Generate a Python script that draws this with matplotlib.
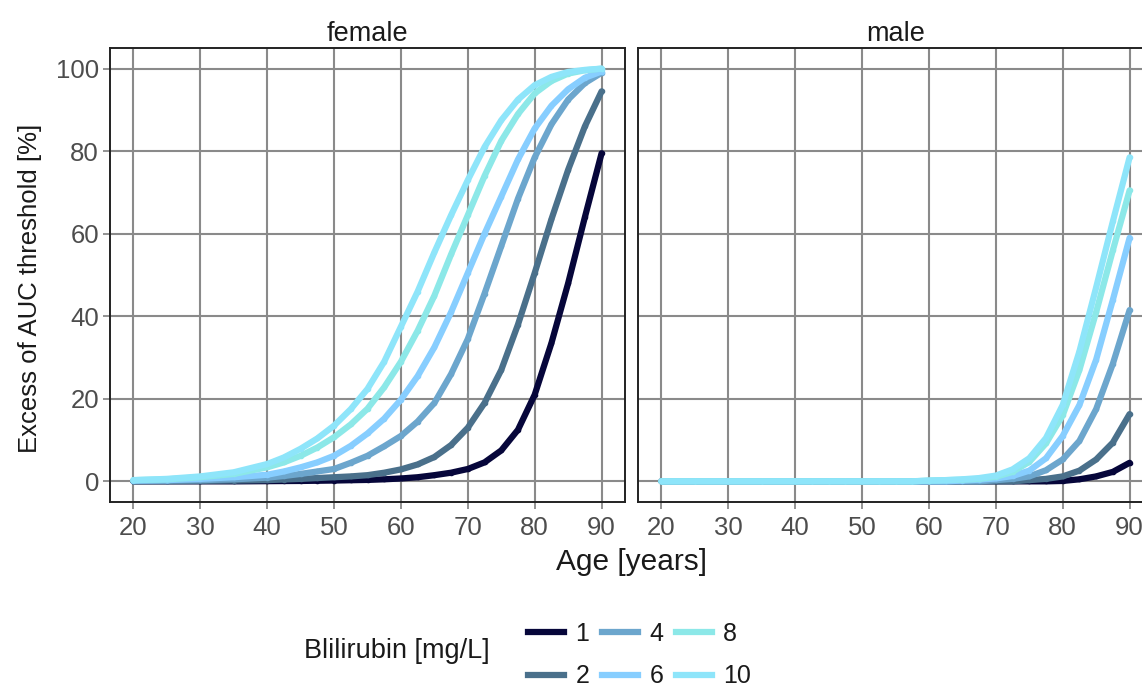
import matplotlib
matplotlib.use("Agg")
import matplotlib.pyplot as plt
from matplotlib.lines import Line2D

plt.rcParams['font.family'] = ['Liberation Sans', 'DejaVu Sans']

ages = [20, 25, 30, 35, 40, 42.5, 45, 47.5, 50, 52.5, 55, 57.5, 60, 62.5, 65,
        67.5, 70, 72.5, 75, 77.5, 80, 82.5, 85, 87.5, 90]

bilirubin = ["1", "2", "4", "6", "8", "10"]
colors = ["#06063A", "#4A708B", "#6CA6CD", "#87CEFF", "#8CE8E8", "#8EE5FA"]

female_1 = [0.0, 0.0, 0.0, 0.0, 0.05, 0.08, 0.1, 0.15, 0.2, 0.28, 0.35, 0.5, 0.7,
            1.0, 1.5, 2.1, 3.0, 4.6, 7.5, 12.5, 21.0, 33.5, 48.0, 64.0, 79.5]
female_2 = [0.0, 0.05, 0.1, 0.2, 0.3, 0.45, 0.6, 0.8, 1.0, 1.2, 1.5, 2.1, 2.9,
            4.1, 5.9, 8.8, 13.0, 19.0, 27.0, 38.0, 50.5, 63.5, 75.5, 86.0, 94.5]
female_4 = [0.1, 0.2, 0.3, 0.5, 0.9, 1.3, 1.8, 2.4, 3.0, 4.5, 6.2, 8.5, 11.0,
            14.5, 19.0, 26.0, 34.5, 45.5, 57.0, 68.5, 78.5, 86.5, 92.5, 96.5, 99.0]
female_6 = [0.2, 0.3, 0.6, 1.0, 1.6, 2.4, 3.4, 4.6, 6.2, 8.6, 11.6, 15.2, 19.8,
            25.5, 32.5, 41.0, 50.5, 60.0, 69.0, 78.0, 85.5, 91.0, 95.0, 97.8, 99.3]
female_8 = [0.3, 0.5, 1.0, 1.8, 3.4, 4.6, 6.2, 8.2, 10.7, 13.8, 17.6, 22.8, 29.0,
            36.5, 45.0, 55.0, 64.5, 74.0, 82.5, 89.0, 94.0, 97.0, 98.8, 99.6, 100.0]
female_10 = [0.3, 0.6, 1.2, 2.2, 4.2, 5.8, 7.9, 10.4, 13.5, 17.5, 22.4, 29.0, 37.5,
             46.0, 55.5, 64.5, 73.0, 81.0, 87.5, 92.5, 96.0, 98.0, 99.2, 99.7, 100.0]

male_1 = [0.0] * 20 + [0.1, 0.5, 1.2, 2.3, 4.5]
male_2 = [0.0] * 18 + [0.3, 0.6, 1.2, 2.6, 5.3, 9.4, 16.3]
male_4 = [0.0] * 16 + [0.3, 0.6, 1.2, 2.7, 5.3, 9.8, 17.5, 28.5, 41.5]
male_6 = [0.0] * 14 + [0.2, 0.4, 0.7, 1.3, 2.6, 5.6, 11.0, 18.5, 29.5, 44.0, 59.0]
male_8 = [0.0] * 12 + [0.2, 0.3, 0.4, 0.6, 1.1, 2.3, 4.7, 9.2, 16.0, 27.0, 41.0, 56.0, 70.5]
male_10 = [0.0] * 12 + [0.2, 0.3, 0.5, 0.8, 1.4, 2.9, 5.6, 10.5, 18.5, 31.5, 47.0, 63.0, 78.5]

panels = {
    "female": [female_1, female_2, female_4, female_6, female_8, female_10],
    "male": [male_1, male_2, male_4, male_6, male_8, male_10],
}

W, H = 1142, 688
fig = plt.figure(figsize=(W / 100, H / 100), dpi=100)

grid_col = "#8a8a8a"
tick_col = "#4d4d4d"

positions = {"female": [110 / W, 1 - 502 / H, 515 / W, 454 / H],
             "male": [638 / W, 1 - 502 / H, 515 / W, 454 / H]}

for name, series in panels.items():
    ax = fig.add_axes(positions[name])
    ax.set_facecolor("white")
    for vals, col in zip(series, colors):
        ax.plot(ages, vals, color=col, lw=4.5, solid_capstyle="round",
                solid_joinstyle="round", marker="o", markersize=3.0, zorder=3)
    ax.set_xlim(16.5, 93.5)
    ax.set_ylim(-5, 105)
    ax.set_xticks([20, 30, 40, 50, 60, 70, 80, 90])
    ax.set_yticks([0, 20, 40, 60, 80, 100])
    ax.grid(True, color=grid_col, lw=1.5, zorder=0)
    ax.set_axisbelow(True)
    for s in ax.spines.values():
        s.set_color("#222222")
        s.set_linewidth(1.4)
    ax.tick_params(axis="both", colors=grid_col, length=5, width=1.3,
                   labelsize=18.5, labelcolor=tick_col, pad=3)
    ax.tick_params(axis="x", pad=5)
    if name == "male":
        ax.tick_params(axis="y", labelleft=False, length=0)
    ax.set_title(name, fontsize=19.5, color="#1a1a1a", pad=5)

fig.text(632 / W, 1 - 562 / H, "Age [years]", ha="center", va="center",
         fontsize=21.5, color="#1a1a1a")
fig.text(30 / W, 1 - 288 / H, "Excess of AUC threshold [%]", ha="center",
         va="center", rotation=90, fontsize=18.5, color="#1a1a1a")

handles = [Line2D([0], [0], color=c, lw=4.5) for c in colors]
leg = fig.legend(handles, bilirubin, ncol=3, loc="center left",
                 bbox_to_anchor=(528 / W, 1 - 655 / H), frameon=False,
                 fontsize=18, handlelength=1.45, columnspacing=0.5,
                 handletextpad=0.45, labelspacing=0.75, borderpad=0.0,
                 borderaxespad=0.0)
for t in leg.get_texts():
    t.set_color("#1a1a1a")
fig.text(304 / W, 1 - 651 / H, "Blilirubin [mg/L]", ha="left", va="center",
         fontsize=19.5, color="#1a1a1a")

fig.savefig("out.png", dpi=100, facecolor="white")
